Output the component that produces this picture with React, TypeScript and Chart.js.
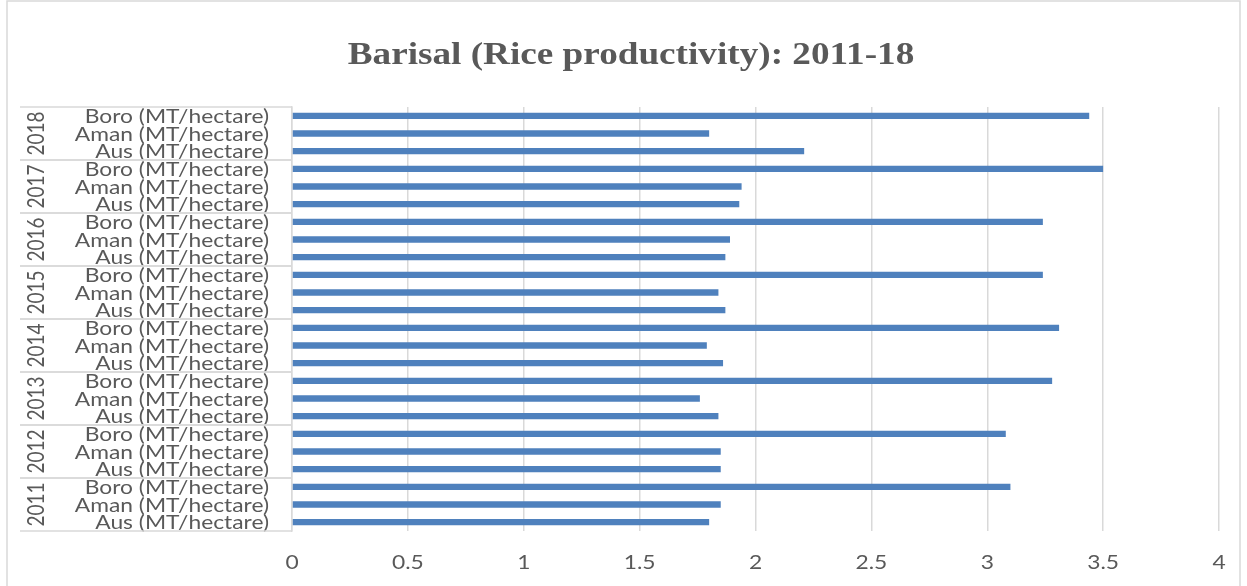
import React, { useEffect, useRef } from "react";
import { Chart, registerables } from "chart.js";

Chart.register(...registerables);

// Rice productivity in Barisal, MT per hectare, by season and year
const years = ["2011", "2012", "2013", "2014", "2015", "2016", "2017", "2018"];
const cropTypes = ["Aus (MT/hectare)", "Aman (MT/hectare)", "Boro (MT/hectare)"];
const ausYield = [1.80, 1.85, 1.84, 1.86, 1.87, 1.87, 1.93, 2.21];
const amanYield = [1.85, 1.85, 1.76, 1.79, 1.84, 1.89, 1.94, 1.80];
const boroYield = [3.10, 3.08, 3.28, 3.31, 3.24, 3.24, 3.50, 3.44];
const xMin = 0;
const xMax = 4;
const xStep = 0.5;

const titleText = "Barisal (Rice productivity): 2011-18";

const TEXT_COLOR = "#595959";
const LINE_COLOR = "#d9d9d9";
const BAR_COLOR = "#4f81bd";
const LABEL_FONT = "19px Lato";
const TITLE_FONT = "bold 31px 'Liberation Serif'";
const STRETCH = 1.2;

function stretchedText(
  ctx: CanvasRenderingContext2D,
  text: string,
  x: number,
  y: number,
  align: CanvasTextAlign,
  rotate = false
) {
  ctx.save();
  ctx.translate(x, y);
  ctx.scale(STRETCH, 1);
  if (rotate) ctx.rotate(-Math.PI / 2);
  ctx.textAlign = align;
  ctx.textBaseline = "middle";
  ctx.fillText(text, 0, 0);
  ctx.restore();
}

const decorations = {
  id: "decorations",
  beforeDraw(chart: any) {
    const ctx = chart.ctx as CanvasRenderingContext2D;
    ctx.save();
    ctx.fillStyle = "#ffffff";
    ctx.fillRect(0, 0, chart.width, chart.height);
    ctx.restore();
  },
  afterDraw(chart: any) {
    const ctx = chart.ctx as CanvasRenderingContext2D;
    const area = chart.chartArea;
    const yScale = chart.scales.y;
    const xScale = chart.scales.x;
    const labels: string[] = chart.data.labels;

    ctx.save();
    // chart frame
    ctx.strokeStyle = LINE_COLOR;
    ctx.lineWidth = 1.5;
    ctx.strokeRect(7, 1, 1233, 600);

    // title
    ctx.fillStyle = TEXT_COLOR;
    ctx.font = TITLE_FONT;
    stretchedText(ctx, titleText, 631, 56, "center");

    // crop type labels
    ctx.font = LABEL_FONT;
    labels.forEach((lab, i) => {
      stretchedText(ctx, lab, area.left - 23, yScale.getPixelForValue(i) + 1, "right");
    });

    // year groups: separators and rotated year labels
    const band = Math.abs(yScale.getPixelForValue(1) - yScale.getPixelForValue(0));
    ctx.strokeStyle = LINE_COLOR;
    ctx.lineWidth = 1.5;
    years.forEach((yr, g) => {
      const a = yScale.getPixelForValue(g * 3);
      const b = yScale.getPixelForValue(g * 3 + 2);
      const top = Math.min(a, b) - band / 2;
      const bottom = Math.max(a, b) + band / 2;
      ctx.beginPath();
      ctx.moveTo(20, top);
      ctx.lineTo(area.left, top);
      ctx.moveTo(20, bottom);
      ctx.lineTo(area.left, bottom);
      ctx.stroke();
      stretchedText(ctx, yr, 37, (a + b) / 2, "center", true);
    });

    // value axis labels
    xScale.ticks.forEach((t: any) => {
      stretchedText(ctx, String(t.value), xScale.getPixelForValue(t.value), 563, "center");
    });
    ctx.restore();
  },
};

export default function App() {
  const canvasRef = useRef<HTMLCanvasElement | null>(null);

  useEffect(() => {
    if (!canvasRef.current) return;
    const labels = years.flatMap(() => cropTypes);
    const values = years.flatMap((_, i) => [ausYield[i], amanYield[i], boroYield[i]]);

    const chart = new Chart(canvasRef.current, {
      type: "bar",
      data: {
        labels,
        datasets: [
          {
            data: values,
            backgroundColor: BAR_COLOR,
            borderWidth: 0,
            barPercentage: 0.36,
            categoryPercentage: 1,
          },
        ],
      },
      options: {
        indexAxis: "y",
        responsive: false,
        animation: false,
        devicePixelRatio: 1,
        layout: { padding: { top: 107, right: 28, left: 0, bottom: 0 } },
        plugins: {
          legend: { display: false },
          title: { display: false },
          tooltip: { enabled: false },
        },
        scales: {
          x: {
            type: "linear",
            min: xMin,
            max: xMax,
            ticks: { stepSize: xStep, display: false },
            grid: { color: LINE_COLOR, lineWidth: 1.5, drawTicks: false },
            border: { display: false },
            afterFit: (s: any) => {
              s.height = 55;
            },
          },
          y: {
            type: "category",
            reverse: true,
            offset: true,
            ticks: { display: false },
            grid: { display: false, drawTicks: false },
            border: { display: true, color: LINE_COLOR, width: 1.5 },
            afterFit: (s: any) => {
              s.width = 292;
            },
          },
        },
      },
      plugins: [decorations],
    });
    return () => chart.destroy();
  }, []);

  return (
    <div style={{ position: "fixed", left: 0, top: 0, width: 1247, height: 586 }}>
      <canvas ref={canvasRef} width={1247} height={586} style={{ display: "block" }} />
    </div>
  );
}
